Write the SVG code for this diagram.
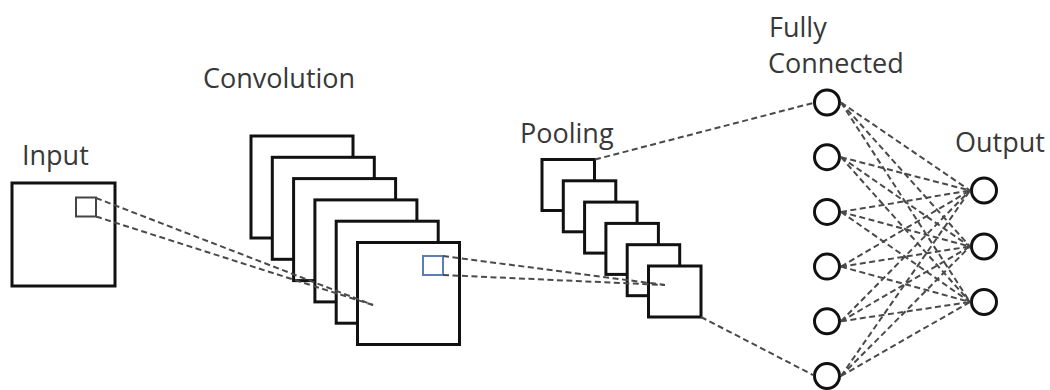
<svg xmlns="http://www.w3.org/2000/svg" width="1050" height="390" viewBox="0 0 1050 390">
<style>
.lbl{font-family:"Open Sans","Noto Sans",sans-serif;font-size:27px;fill:#383838}
.sq{fill:#fff;stroke:#111;stroke-width:3}
.kern{fill:none;stroke:#444;stroke-width:2}
.kb{fill:none;stroke:#5b7db8;stroke-width:2}
.nd{fill:#fff;stroke:#111;stroke-width:3}
.dl{fill:none;stroke:#4a4a4a;stroke-width:2;stroke-dasharray:6 3.5}
</style>
<rect width="1050" height="390" fill="#fff"/>
<g id="input">
<text class="lbl" x="22" y="165">Input</text>
<rect class="sq" x="12" y="183" width="103" height="103"/>
<rect class="kern" x="76" y="197.5" width="20" height="19"/>
</g>
<g id="convolution">
<text class="lbl" x="203" y="88">Convolution</text>
<rect class="sq" x="251" y="136" width="102" height="102"/>
<rect class="sq" x="272.3" y="157.3" width="102" height="102"/>
<rect class="sq" x="293.6" y="178.6" width="102" height="102"/>
<rect class="sq" x="314.9" y="199.9" width="102" height="102"/>
<rect class="sq" x="336.2" y="221.2" width="102" height="102"/>
<rect class="sq" x="357.5" y="242.5" width="102" height="102"/>
<rect class="kb" x="423" y="256" width="20" height="19"/>
</g>
<g id="pooling">
<text class="lbl" x="520" y="143">Pooling</text>
<rect class="sq" x="542" y="159.5" width="52.5" height="51"/>
<rect class="sq" x="563.3" y="180.8" width="52.5" height="51"/>
<rect class="sq" x="584.6" y="202.1" width="52.5" height="51"/>
<rect class="sq" x="605.9" y="223.4" width="52.5" height="51"/>
<rect class="sq" x="627.2" y="244.7" width="52.5" height="51"/>
<rect class="sq" x="648.5" y="266" width="52.5" height="51"/>
</g>
<g id="fully-connected">
<text class="lbl" x="769" y="37">Fully</text>
<text class="lbl" x="768" y="73">Connected</text>
<circle id="fc1" class="nd" cx="827" cy="102.5" r="12.5"/>
<circle id="fc2" class="nd" cx="827" cy="157.2" r="12.5"/>
<circle id="fc3" class="nd" cx="827" cy="211.9" r="12.5"/>
<circle id="fc4" class="nd" cx="827" cy="266.6" r="12.5"/>
<circle id="fc5" class="nd" cx="827" cy="321.3" r="12.5"/>
<circle id="fc6" class="nd" cx="827" cy="376" r="12.5"/>
</g>
<g id="output">
<text class="lbl" x="955" y="152">Output</text>
<circle id="out1" class="nd" cx="984" cy="190.5" r="12.5"/>
<circle id="out2" class="nd" cx="984" cy="246.5" r="12.5"/>
<circle id="out3" class="nd" cx="984" cy="302" r="12.5"/>
</g>
<g id="connectors" class="dl">
<line x1="96" y1="198" x2="373" y2="305"/>
<line x1="96" y1="216.5" x2="373" y2="305"/>
<line x1="443" y1="256" x2="665" y2="285"/>
<line x1="443" y1="275" x2="665" y2="285"/>
<line x1="595" y1="159.5" x2="813" y2="103"/>
<line x1="701" y1="317" x2="813" y2="375"/>
<line x1="841" y1="102.5" x2="970" y2="190.5"/>
<line x1="841" y1="102.5" x2="970" y2="246.5"/>
<line x1="841" y1="102.5" x2="970" y2="302"/>
<line x1="841" y1="157.2" x2="970" y2="190.5"/>
<line x1="841" y1="157.2" x2="970" y2="246.5"/>
<line x1="841" y1="157.2" x2="970" y2="302"/>
<line x1="841" y1="211.9" x2="970" y2="190.5"/>
<line x1="841" y1="211.9" x2="970" y2="246.5"/>
<line x1="841" y1="211.9" x2="970" y2="302"/>
<line x1="841" y1="266.6" x2="970" y2="190.5"/>
<line x1="841" y1="266.6" x2="970" y2="246.5"/>
<line x1="841" y1="266.6" x2="970" y2="302"/>
<line x1="841" y1="321.3" x2="970" y2="190.5"/>
<line x1="841" y1="321.3" x2="970" y2="246.5"/>
<line x1="841" y1="321.3" x2="970" y2="302"/>
<line x1="841" y1="376" x2="970" y2="190.5"/>
<line x1="841" y1="376" x2="970" y2="246.5"/>
<line x1="841" y1="376" x2="970" y2="302"/>
</g>
</svg>
